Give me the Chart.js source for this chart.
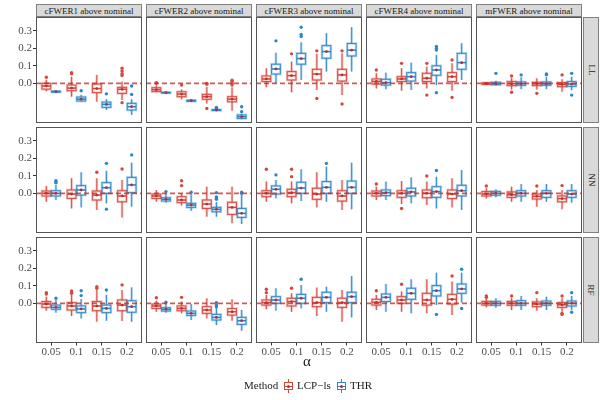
<!DOCTYPE html>
<html>
<head>
<meta charset="utf-8">
<script src="https://cdn.jsdelivr.net/npm/chart.js@4"></script>
<style>
  body { margin: 0; background: #fff; font-family: 'Liberation Serif', serif; }
  #wrap { position: relative; width: 600px; height: 400px; overflow: hidden; }
  #wrap canvas { position: absolute; }
  .strip { position: absolute; background: #d9d9d9; border: 1px solid #808080; box-sizing: border-box;
           font-size: 9px; color: #1a1a1a; display: flex; align-items: center; justify-content: center; white-space: nowrap; }
  .strip.side span { display: block; transform: rotate(90deg); }
  .txt { position: absolute; color: #1a1a1a; white-space: nowrap; }
  .key { position: absolute; width: 11px; height: 14px; }
  .key .bx { position: absolute; left: 1px; top: 3px; width: 9px; height: 8px; border: 1px solid; box-sizing: border-box; }
  .key .md { position: absolute; left: 1px; top: 6.5px; width: 9px; height: 1px; }
  .key .wk { position: absolute; left: 5px; width: 1px; }
  .key .dt { position: absolute; left: 4px; top: 5.5px; width: 3px; height: 3px; border-radius: 50%; background: #c0392b; }
</style>
</head>
<body>
<div id="wrap"></div>
<script>
const alphas = ['0.05', '0.1', '0.15', '0.2'];
const measures = ['cFWER1 above nominal', 'cFWER2 above nominal', 'cFWER3 above nominal', 'cFWER4 above nominal', 'mFWER above nominal'];
const models = ['LL', 'NN', 'RF'];
const methods = ['LCP\u2212ls', 'THR'];
const yTicks = [0, 0.1, 0.2, 0.3];

// box stats per measure, one per alpha: [lower whisker, q1, median, q3, upper whisker]
const LL_lcp = [
  [[-0.045, -0.033, -0.015, 0.0, 0.02], [-0.076, -0.042, -0.027, -0.01, 0.038], [-0.105, -0.053, -0.03, -0.004, 0.048], [-0.095, -0.057, -0.034, -0.023, 0.01]],
  [[-0.05, -0.047, -0.036, -0.025, -0.012], [-0.09, -0.076, -0.061, -0.048, -0.035], [-0.115, -0.091, -0.076, -0.063, -0.02], [-0.156, -0.105, -0.09, -0.076, -0.023]],
  [[-0.023, 0.01, 0.025, 0.042, 0.086], [-0.051, 0.019, 0.044, 0.067, 0.124], [-0.038, 0.019, 0.053, 0.08, 0.168], [-0.067, 0.013, 0.048, 0.08, 0.171]],
  [[-0.029, -0.004, 0.011, 0.025, 0.057], [-0.042, 0.01, 0.025, 0.038, 0.086], [-0.029, 0.01, 0.029, 0.057, 0.095], [-0.042, 0.01, 0.038, 0.061, 0.114]],
  [[-0.008, -0.006, -0.001, 0.003, 0.006], [-0.035, -0.013, -0.002, 0.01, 0.03], [-0.035, -0.013, -0.002, 0.006, 0.029], [-0.048, -0.019, -0.006, 0.004, 0.023]]
];
const LL_thr = [
  [[-0.052, -0.05, -0.047, -0.045, -0.043], [-0.105, -0.101, -0.09, -0.078, -0.065], [-0.152, -0.137, -0.12, -0.107, -0.09], [-0.18, -0.152, -0.133, -0.114, -0.09]],
  [[-0.056, -0.055, -0.053, -0.051, -0.05], [-0.104, -0.102, -0.099, -0.096, -0.094], [-0.156, -0.155, -0.152, -0.15, -0.148], [-0.205, -0.2, -0.19, -0.18, -0.175]],
  [[0.0, 0.053, 0.082, 0.109, 0.175], [0.019, 0.109, 0.141, 0.171, 0.234], [0.067, 0.143, 0.181, 0.215, 0.286], [0.067, 0.156, 0.189, 0.227, 0.32]],
  [[-0.034, -0.01, 0.004, 0.023, 0.061], [-0.038, 0.013, 0.038, 0.061, 0.118], [-0.01, 0.046, 0.076, 0.1, 0.162], [0.019, 0.08, 0.118, 0.171, 0.229]],
  [[-0.012, -0.008, -0.002, 0.006, 0.015], [-0.033, -0.011, -0.002, 0.008, 0.035], [-0.033, -0.011, -0.002, 0.008, 0.035], [-0.04, -0.017, -0.004, 0.01, 0.038]]
];
const NN_lcp = [
  [[-0.048, -0.015, 0.0, 0.013, 0.042], [-0.086, -0.029, -0.004, 0.019, 0.086], [-0.095, -0.038, -0.01, 0.013, 0.086], [-0.137, -0.048, -0.015, 0.015, 0.076]],
  [[-0.048, -0.029, -0.015, -0.004, 0.019], [-0.069, -0.053, -0.038, -0.019, 0.0], [-0.133, -0.086, -0.061, -0.038, 0.038], [-0.171, -0.12, -0.08, -0.051, 0.038]],
  [[-0.048, -0.019, 0.0, 0.015, 0.067], [-0.057, -0.019, 0.004, 0.023, 0.067], [-0.08, -0.034, -0.004, 0.029, 0.12], [-0.095, -0.044, -0.015, 0.015, 0.076]],
  [[-0.038, -0.015, 0.0, 0.013, 0.038], [-0.061, -0.023, 0.0, 0.015, 0.07], [-0.067, -0.025, 0.0, 0.019, 0.067], [-0.08, -0.03, -0.004, 0.019, 0.086]],
  [[-0.029, -0.015, -0.004, 0.01, 0.029], [-0.048, -0.023, -0.008, 0.008, 0.038], [-0.076, -0.032, -0.017, -0.004, 0.019], [-0.091, -0.048, -0.03, -0.015, 0.019]]
];
const NN_thr = [
  [[-0.038, -0.015, 0.0, 0.015, 0.048], [-0.08, -0.01, 0.019, 0.044, 0.12], [-0.057, 0.0, 0.032, 0.061, 0.128], [-0.076, 0.004, 0.048, 0.091, 0.175]],
  [[-0.053, -0.044, -0.034, -0.025, 0.0], [-0.1, -0.08, -0.067, -0.057, -0.004], [-0.133, -0.105, -0.091, -0.08, -0.05], [-0.175, -0.137, -0.114, -0.086, -0.005]],
  [[-0.029, -0.004, 0.023, 0.042, 0.076], [-0.044, 0.0, 0.03, 0.063, 0.137], [-0.048, 0.0, 0.034, 0.067, 0.152], [-0.091, 0.0, 0.034, 0.07, 0.175]],
  [[-0.038, -0.013, 0.004, 0.019, 0.067], [-0.057, -0.015, 0.008, 0.029, 0.091], [-0.086, -0.023, 0.01, 0.038, 0.095], [-0.095, -0.015, 0.015, 0.046, 0.133]],
  [[-0.023, -0.011, 0.0, 0.011, 0.023], [-0.048, -0.015, 0.0, 0.015, 0.053], [-0.048, -0.023, 0.0, 0.015, 0.053], [-0.053, -0.023, -0.004, 0.015, 0.053]]
];
const RF_lcp = [
  [[-0.042, -0.023, -0.004, 0.01, 0.038], [-0.072, -0.038, -0.015, 0.004, 0.048], [-0.105, -0.042, -0.015, 0.01, 0.076], [-0.101, -0.042, -0.01, 0.019, 0.076]],
  [[-0.048, -0.029, -0.015, -0.004, 0.015], [-0.057, -0.042, -0.029, -0.015, 0.01], [-0.086, -0.057, -0.038, -0.019, 0.029], [-0.099, -0.067, -0.048, -0.03, 0.023]],
  [[-0.034, -0.01, 0.004, 0.019, 0.048], [-0.048, -0.015, 0.01, 0.029, 0.057], [-0.072, -0.019, 0.004, 0.034, 0.09], [-0.105, -0.023, 0.004, 0.029, 0.076]],
  [[-0.038, -0.01, 0.006, 0.023, 0.048], [-0.048, 0.0, 0.019, 0.038, 0.067], [-0.057, -0.01, 0.019, 0.057, 0.137], [-0.067, -0.004, 0.023, 0.051, 0.124]],
  [[-0.023, -0.01, 0.0, 0.011, 0.029], [-0.038, -0.011, 0.0, 0.011, 0.029], [-0.042, -0.019, -0.004, 0.008, 0.029], [-0.048, -0.023, -0.008, 0.004, 0.029]]
];
const RF_thr = [
  [[-0.053, -0.034, -0.023, -0.01, 0.019], [-0.086, -0.053, -0.032, -0.015, 0.025], [-0.099, -0.053, -0.029, -0.01, 0.048], [-0.105, -0.051, -0.019, 0.015, 0.091]],
  [[-0.053, -0.044, -0.034, -0.025, 0.0], [-0.095, -0.069, -0.057, -0.044, -0.004], [-0.124, -0.095, -0.08, -0.063, -0.004], [-0.156, -0.12, -0.099, -0.08, -0.038]],
  [[-0.042, 0.0, 0.019, 0.038, 0.086], [-0.029, 0.0, 0.029, 0.051, 0.105], [-0.048, 0.004, 0.034, 0.063, 0.095], [-0.08, 0.004, 0.038, 0.063, 0.156]],
  [[-0.048, 0.01, 0.034, 0.053, 0.11], [-0.057, 0.023, 0.057, 0.086, 0.137], [-0.01, 0.042, 0.072, 0.101, 0.175], [0.004, 0.057, 0.082, 0.11, 0.175]],
  [[-0.025, -0.011, 0.0, 0.011, 0.029], [-0.038, -0.011, 0.0, 0.015, 0.042], [-0.038, -0.011, 0.0, 0.013, 0.038], [-0.038, -0.015, 0.0, 0.013, 0.042]]
];

// outlying points per measure, one list per alpha
const LL_lcp_out = [
  [[0.035], [0.055, 0.06], [], [0.086, 0.07, 0.055, 0.045, -0.11]],
  [[0.0, 0.003], [-0.01], [0.0, -0.005, -0.143], [0.018, 0.01, 0.0, -0.01]],
  [[], [0.168], [0.185, -0.086], [0.185, -0.118]],
  [[0.076], [0.114], [0.114, -0.067], [0.133, -0.08]],
  [[], [0.042, -0.051], [-0.057], [0.048]]
];
const LL_thr_out = [
  [[], [-0.042], [-0.06], [-0.063, -0.015]],
  [[], [], [-0.137, -0.142], [-0.133, -0.162]],
  [[0.242], [0.32, 0.278, 0.267], [], []],
  [[], [], [0.21, 0.2, 0.19, -0.053], []],
  [[0.057], [0.048], [0.053, 0.049], [0.057, -0.067]]
];
const NN_lcp_out = [
  [[], [], [0.12], [0.139]],
  [[], [0.072, 0.044], [], []],
  [[0.137], [0.137, 0.095], [], []],
  [[0.053], [-0.086], [0.099], []],
  [[0.042], [], [0.042], [0.044]]
];
const NN_thr_out = [
  [[0.072, 0.065, 0.06], [], [0.171, -0.09], [0.219]],
  [[0.01], [0.006], [0.004, -0.02, -0.03, -0.034], [0.006, 0.0]],
  [[0.105], [], [0.171], []],
  [[], [], [0.13], []],
  [[], [], [], []]
];
const RF_lcp_out = [
  [[0.061, 0.053], [0.07, 0.065, 0.057], [0.095, 0.086], [0.105]],
  [[0.032], [0.034], [], []],
  [[0.08, 0.061], [0.086], [], []],
  [[0.072], [0.109], [], [0.156]],
  [[0.042, 0.034], [0.042], [0.061], [0.042, -0.057, -0.063]]
];
const RF_thr_out = [
  [[0.029], [0.072, 0.044], [0.076], []],
  [[0.006], [], [0.004, -0.01, -0.019], []],
  [[], [0.137], [], []],
  [[], [], [-0.063], [0.194, -0.029]],
  [[], [], [], [0.061, -0.051]]
];

const boxStats = { LL: [LL_lcp, LL_thr], NN: [NN_lcp, NN_thr], RF: [RF_lcp, RF_thr] };
const outliers = { LL: [LL_lcp_out, LL_thr_out], NN: [NN_lcp_out, NN_thr_out], RF: [RF_lcp_out, RF_thr_out] };

// layout
const panelLeft = [36, 146, 256, 366, 476];
const panelTop = [17, 127, 237];
const panelSize = 106;
const axisW = 36, axisH = 22;
const colors = ['#D4493E', '#2C87C9'];
const meanColors = ['#C0302A', '#A3304C'];
const dodge = 0.19, boxHalf = 0.175;
const tickFont = { family: "'Liberation Serif', serif", size: 11 };

const wrap = document.getElementById('wrap');

function makeBoxPlugin(groups) {
  return {
    id: 'boxes',
    beforeDatasetsDraw(chart) {
      const { ctx, chartArea: a, scales: { x, y } } = chart;
      ctx.save();
      ctx.beginPath();
      ctx.rect(a.left, a.top, a.width, a.height);
      ctx.clip();
      groups.forEach(g => {
        g.stats.forEach((s, i) => {
          const c = i + 1 + g.shift;
          const xl = x.getPixelForValue(c - boxHalf);
          const xr = x.getPixelForValue(c + boxHalf);
          const xc = x.getPixelForValue(c);
          const [lo, q1, med, q3, hi] = s.map(v => y.getPixelForValue(v));
          ctx.strokeStyle = g.color;
          // soft halo, the original has two overlapping translucent boxes
          [[2.6, 0.3], [1, 0.95]].forEach(([lw, al]) => {
            ctx.globalAlpha = al;
            ctx.lineWidth = lw;
            ctx.beginPath();
            ctx.moveTo(xc, hi); ctx.lineTo(xc, q3);
            ctx.moveTo(xc, q1); ctx.lineTo(xc, lo);
            ctx.stroke();
            ctx.strokeRect(xl, q3, xr - xl, q1 - q3);
          });
          ctx.globalAlpha = 1;
          ctx.lineWidth = 1.6;
          ctx.beginPath();
          ctx.moveTo(xl, med); ctx.lineTo(xr, med);
          ctx.stroke();
        });
      });
      ctx.restore();
    },
    afterDatasetsDraw(chart) {
      const { ctx, chartArea: a, scales: { y } } = chart;
      const y0 = y.getPixelForValue(0);
      ctx.save();
      ctx.strokeStyle = 'rgba(196,48,40,0.8)';
      ctx.lineWidth = 1.6;
      ctx.setLineDash([5, 3]);
      ctx.beginPath();
      ctx.moveTo(a.left, y0); ctx.lineTo(a.right, y0);
      ctx.stroke();
      ctx.setLineDash([]);
      ctx.strokeStyle = '#555';
      ctx.lineWidth = 1;
      ctx.strokeRect(a.left + 0.5, a.top + 0.5, a.width - 1, a.height - 1);
      ctx.restore();
    }
  };
}

function pointsOf(lists, shift) {
  return lists.flatMap((list, i) => list.map(v => ({ x: i + 1 + shift, y: v })));
}

models.forEach((model, r) => {
  measures.forEach((measure, c) => {
    const left = c === 0, bottom = r === models.length - 1;
    const canvas = document.createElement('canvas');
    const w = panelSize + (left ? axisW : 0);
    const h = panelSize + (bottom ? axisH : 0);
    canvas.width = w; canvas.height = h;
    canvas.style.left = (panelLeft[c] - (left ? axisW : 0)) + 'px';
    canvas.style.top = panelTop[r] + 'px';
    canvas.style.width = w + 'px'; canvas.style.height = h + 'px';
    wrap.appendChild(canvas);

    const [sL, sT] = boxStats[model].map(m => m[c]);
    const [oL, oT] = outliers[model].map(m => m[c]);
    const groups = [
      { stats: sL, shift: -dodge, color: colors[0] },
      { stats: sT, shift: dodge, color: colors[1] }
    ];

    new Chart(canvas, {
      type: 'scatter',
      data: {
        datasets: [
          { data: sL.map((s, i) => ({ x: i + 1 - dodge, y: s[2] })), pointRadius: 1.4, backgroundColor: meanColors[0], borderWidth: 0 },
          { data: sT.map((s, i) => ({ x: i + 1 + dodge, y: s[2] })), pointRadius: 1.4, backgroundColor: meanColors[1], borderWidth: 0 },
          { data: pointsOf(oL, -dodge), pointRadius: 1.7, backgroundColor: colors[0], borderWidth: 0 },
          { data: pointsOf(oT, dodge), pointRadius: 1.7, backgroundColor: colors[1], borderWidth: 0 }
        ]
      },
      options: {
        responsive: false,
        animation: false,
        events: [],
        layout: { padding: 0, autoPadding: false },
        plugins: { legend: { display: false }, tooltip: { enabled: false } },
        scales: {
          x: {
            type: 'linear', min: 0.4, max: 4.6, display: bottom,
            afterBuildTicks: s => { s.ticks = alphas.map((a, i) => ({ value: i + 1 })); },
            ticks: { callback: v => alphas[Math.round(v) - 1], font: tickFont, color: '#4d4d4d', padding: 0, maxRotation: 0, autoSkip: false },
            grid: { drawOnChartArea: false, tickLength: 2.5, color: '#333' },
            border: { display: false },
            afterFit: s => { s.height = bottom ? axisH : 0; s.paddingLeft = 0; s.paddingRight = 0; }
          },
          y: {
            min: -0.226, max: 0.378, display: left,
            afterBuildTicks: s => { s.ticks = yTicks.map(v => ({ value: v })); },
            ticks: { callback: v => v.toFixed(1), font: tickFont, color: '#4d4d4d', padding: 1 },
            grid: { drawOnChartArea: false, tickLength: 3, color: '#333' },
            border: { display: false },
            afterFit: s => { s.width = left ? axisW : 0; s.paddingTop = 0; s.paddingBottom = 0; }
          }
        }
      },
      plugins: [makeBoxPlugin(groups)]
    });
  });
});

// facet strips
measures.forEach((m, c) => {
  const d = document.createElement('div');
  d.className = 'strip';
  Object.assign(d.style, { left: panelLeft[c] + 'px', top: '4px', width: panelSize + 'px', height: '13px' });
  d.textContent = m;
  wrap.appendChild(d);
});
models.forEach((m, r) => {
  const d = document.createElement('div');
  d.className = 'strip side';
  Object.assign(d.style, { left: '583px', top: panelTop[r] + 'px', width: '16px', height: panelSize + 'px' });
  d.innerHTML = '<span>' + m + '</span>';
  wrap.appendChild(d);
});

function addText(t, x, y, size) {
  const d = document.createElement('div');
  d.className = 'txt';
  Object.assign(d.style, { left: x + 'px', top: y + 'px', fontSize: size + 'px' });
  d.textContent = t;
  wrap.appendChild(d);
  return d;
}

// axis title
addText('\u03b1', 303, 353, 15);

// legend
addText('Method', 244, 379, 11);
[[283, 297], [336, 350]].forEach(([kx, tx], i) => {
  const k = document.createElement('div');
  k.className = 'key';
  Object.assign(k.style, { left: kx + 'px', top: '379px' });
  k.innerHTML =
    '<div class="wk" style="top:0;height:3px;background:' + colors[i] + '"></div>' +
    '<div class="wk" style="top:11px;height:3px;background:' + colors[i] + '"></div>' +
    '<div class="bx" style="border-color:' + colors[i] + '"></div>' +
    '<div class="md" style="background:' + colors[i] + '"></div>' +
    '<div class="dt" style="background:' + meanColors[i] + '"></div>';
  wrap.appendChild(k);
  addText(methods[i], tx, 379, 11);
});
</script>
</body>
</html>
